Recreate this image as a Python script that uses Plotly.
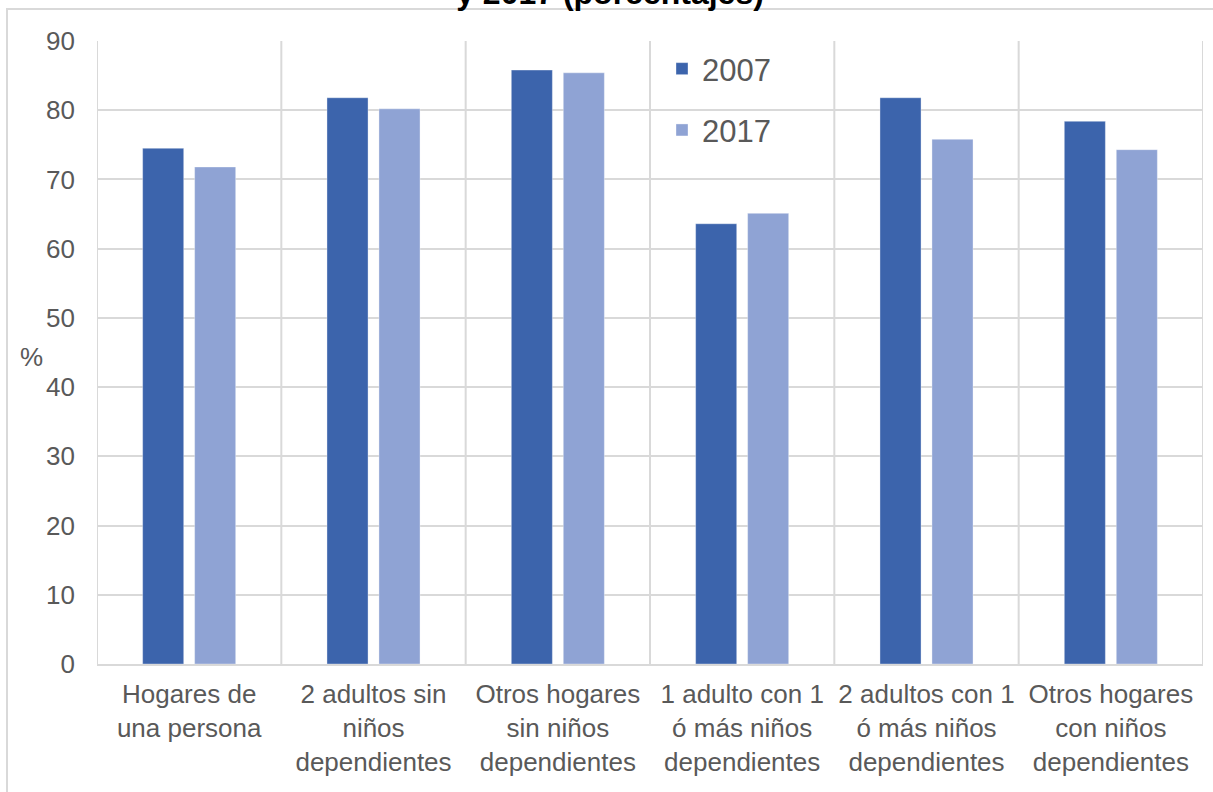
import plotly.graph_objects as go

# Household types and the share (%) for each survey year
categories = [
    "Hogares de<br>una persona",
    "2 adultos sin<br>niños<br>dependientes",
    "Otros hogares<br>sin niños<br>dependientes",
    "1 adulto con 1<br>ó más niños<br>dependientes",
    "2 adultos con 1<br>ó más niños<br>dependientes",
    "Otros hogares<br>con niños<br>dependientes",
]
years = ["2007", "2017"]
values_2007 = [74.5, 81.8, 85.8, 63.6, 81.8, 78.4]
values_2017 = [71.8, 80.2, 85.4, 65.1, 75.8, 74.3]
y_ticks = [0, 10, 20, 30, 40, 50, 60, 70, 80, 90]

colors = {"2007": "#3C64AC", "2017": "#8FA3D4"}
grid = "#D9D9D9"
text_color = "#595959"
font_family = "Liberation Sans, Arial, sans-serif"

W, H = 1213, 792
L, R, T, B = 97, 10, 41, 128
plot_w = W - L - R
plot_h = H - T - B


def px_x(p):
    return (p - L) / plot_w


def px_y(p):
    return (H - B - p) / plot_h


fig = go.Figure()
for year, vals in zip(years, [values_2007, values_2017]):
    fig.add_trace(go.Bar(
        x=categories, y=vals, name=year, legendgroup=year,
        marker=dict(color=colors[year], line=dict(color="rgba(255,255,255,0.35)", width=1)),
    ))

# vertical separators between categories
shapes = []
for i in range(len(categories) + 1):
    shapes.append(dict(type="line", xref="x", yref="paper",
                       x0=i - 0.5, x1=i - 0.5, y0=0, y1=1,
                       line=dict(color=grid, width=2), layer="below"))
# outer chart frame
shapes.append(dict(type="rect", xref="paper", yref="paper",
                   x0=px_x(7), x1=px_x(W + 20), y0=px_y(H + 20), y1=px_y(9),
                   line=dict(color=grid, width=2), fillcolor="rgba(0,0,0,0)", layer="below"))

fig.update_layout(
    width=W, height=H,
    margin=dict(l=L, r=R, t=T, b=B),
    paper_bgcolor="white", plot_bgcolor="white",
    font=dict(family=font_family, size=26, color=text_color),
    barmode="group", bargap=0.436, bargroupgap=0.21,
    title=dict(text="y 2017 (porcentajes)", x=610 / W, xanchor="center",
               xref="container", yref="container", y=1 - 4 / H, yanchor="bottom",
               font=dict(family=font_family, size=32, color="#000000", weight="bold")),
    xaxis=dict(showgrid=False, showline=True, linecolor=grid, linewidth=2,
               ticks="", ticklabelstandoff=6,
               tickfont=dict(size=26, color=text_color), range=[-0.5, 5.5]),
    yaxis=dict(range=[0, 90], tickvals=y_ticks, showgrid=True, gridcolor=grid, gridwidth=2,
               zeroline=False, showline=False, ticks="", ticklabelstandoff=21,
               tickfont=dict(size=26, color=text_color)),
    legend=dict(x=px_x(662), y=px_y(42), xanchor="left", yanchor="top",
                bgcolor="rgba(0,0,0,0)", font=dict(size=31, color=text_color),
                tracegroupgap=18, traceorder="grouped"),
    shapes=shapes,
    annotations=[dict(text="%", xref="paper", yref="paper", x=px_x(31), y=px_y(357),
                      xanchor="center", yanchor="middle", showarrow=False,
                      font=dict(size=26, color=text_color))],
    showlegend=True,
)

fig.write_html("out.html")
